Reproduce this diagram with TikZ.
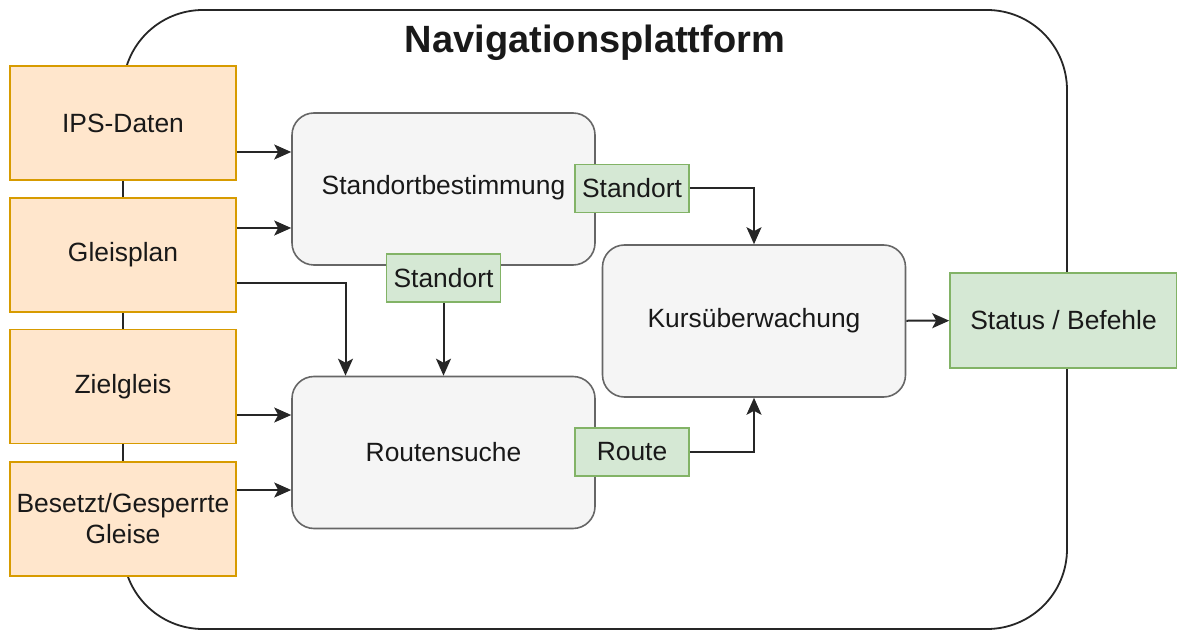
\documentclass[tikz,border=0pt]{standalone}
\usepackage{fontspec}
\setmainfont{Liberation Sans}
\usetikzlibrary{arrows.meta}

\definecolor{inputfill}{HTML}{FFE6CC}
\definecolor{inputdraw}{HTML}{D79B00}
\definecolor{blockfill}{HTML}{F5F5F5}
\definecolor{blockdraw}{HTML}{666666}
\definecolor{datafill}{HTML}{D5E8D4}
\definecolor{datadraw}{HTML}{82B366}

\begin{document}
\begin{tikzpicture}[x=0.5pt,y=-0.5pt]
\tikzset{
  every node/.style={font=\fontsize{13.2}{15.5}\selectfont, text=black!90, inner sep=0pt},
  platform/.style={draw=black!85, line width=0.9pt, rounded corners=40pt, minimum width=472pt, minimum height=309.5pt},
  inputbox/.style={draw=inputdraw, fill=inputfill, line width=0.8pt, minimum width=113pt, minimum height=57pt, align=center},
  blockbox/.style={draw=blockdraw, fill=blockfill, line width=0.8pt, rounded corners=11pt, minimum width=151.5pt, minimum height=76pt},
  databox/.style={draw=datadraw, fill=datafill, line width=0.8pt, minimum width=57pt, minimum height=24pt},
  flow/.style={draw=black!85, line width=1pt, -{Stealth[length=8.5pt,width=7.5pt,inset=2pt]}}
}
\useasboundingbox (0,0) rectangle (1177,630);
\node[platform] (platform) at (595,319.5) {};
\node[font=\fontsize{19}{22}\selectfont\bfseries] (title) at (595,43) {Navigationsplattform};

\node[inputbox] (ips) at (123,123) {IPS-Daten};
\node[inputbox] (gleis) at (123,255) {Gleisplan};
\node[inputbox] (ziel) at (123,386.5) {Zielgleis};
\node[inputbox] (besetzt) at (123,519) {Besetzt/Gesperrte\\Gleise};

\node[blockbox] (bestimmung) at (443.5,189) {};
\node[blockbox] (routen) at (443.5,452.5) {Routensuche};
\node[blockbox] (kurs) at (754,321) {Kursüberwachung};
\node (bestimmungtext) at (443.5,188) {Standortbestimmung};

\node[databox] (standortR) at (632,188.5) {Standort};
\node[databox] (standortB) at (443.5,278) {Standort};
\node[databox] (route) at (632,452) {Route};
\node[databox, minimum width=113.5pt, minimum height=47.5pt] (status) at (1063.5,320.5) {Status / Befehle};

\draw[flow] ([yshift=-14.5pt]ips.east) -- ([yshift=-14.5pt]ips.east -| bestimmung.west);
\draw[flow] ([yshift=13.5pt]gleis.east) -- ([yshift=13.5pt]gleis.east -| bestimmung.west);
\draw[flow] ([yshift=-14pt]gleis.east) -| ([xshift=-49pt]routen.north);
\draw[flow] (standortB) -- (routen);
\draw[flow] ([yshift=-14.25pt]ziel.east) -- ([yshift=-14.25pt]ziel.east -| routen.west);
\draw[flow] ([yshift=14.5pt]besetzt.east) -- ([yshift=14.5pt]besetzt.east -| routen.west);
\draw[flow] (standortR.east) -| (kurs.north);
\draw[flow] (route.east) -| (kurs.south);
\draw[flow] (kurs) -- (status);
\end{tikzpicture}
\end{document}
